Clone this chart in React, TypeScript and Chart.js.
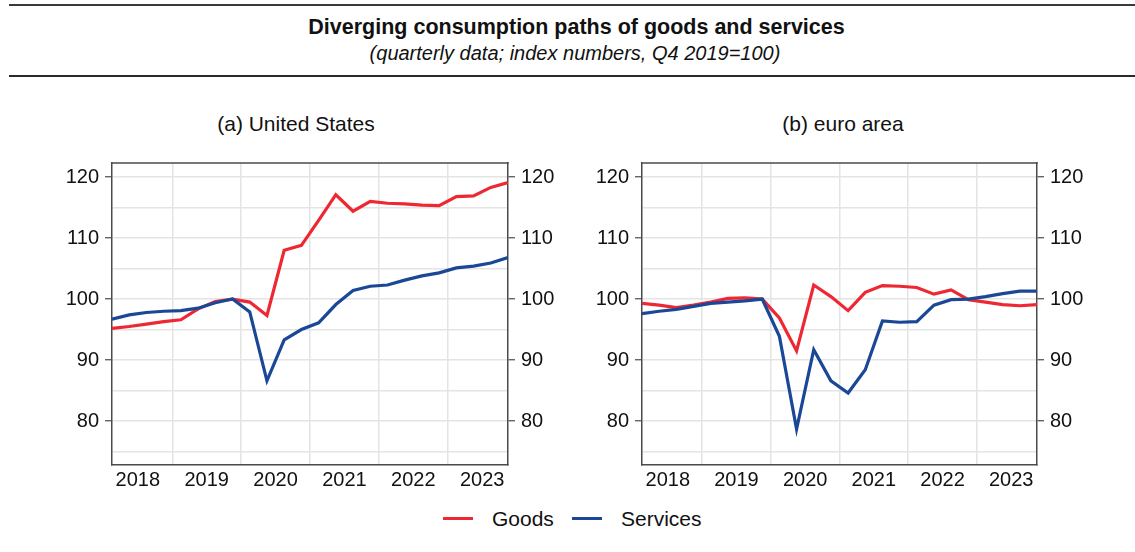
import React, { useEffect, useRef } from 'react';
import { Chart, registerables } from 'chart.js';

Chart.register(...registerables);

const FONT = "'Liberation Sans', Arial, Helvetica, sans-serif";

// ---- data ----
const quarters = [
  '2018Q1', '2018Q2', '2018Q3', '2018Q4',
  '2019Q1', '2019Q2', '2019Q3', '2019Q4',
  '2020Q1', '2020Q2', '2020Q3', '2020Q4',
  '2021Q1', '2021Q2', '2021Q3', '2021Q4',
  '2022Q1', '2022Q2', '2022Q3', '2022Q4',
  '2023Q1', '2023Q2', '2023Q3', '2023Q4',
];
const yearLabels = ['2018', '2019', '2020', '2021', '2022', '2023'];

const usGoods = [
  95.2, 95.5, 95.9, 96.3, 96.6, 98.4, 99.6, 100.0,
  99.5, 97.3, 108.0, 108.8, 112.9, 117.1, 114.4, 116.0,
  115.7, 115.6, 115.4, 115.3, 116.8, 116.9, 118.3, 119.1,
];
const usServices = [
  96.7, 97.4, 97.8, 98.0, 98.1, 98.5, 99.4, 100.0,
  97.9, 86.6, 93.3, 95.0, 96.1, 99.1, 101.4, 102.1,
  102.3, 103.1, 103.8, 104.3, 105.1, 105.4, 105.9, 106.8,
];
const eaGoods = [
  99.3, 99.0, 98.6, 99.0, 99.5, 100.1, 100.2, 100.0,
  96.9, 91.5, 102.3, 100.4, 98.1, 101.1, 102.2, 102.1,
  101.9, 100.8, 101.5, 99.9, 99.5, 99.1, 98.9, 99.1,
];
const eaServices = [
  97.6, 98.0, 98.3, 98.8, 99.3, 99.5, 99.7, 100.0,
  93.9, 78.7, 91.7, 86.6, 84.6, 88.4, 96.4, 96.2,
  96.3, 99.0, 99.9, 100.0, 100.4, 100.9, 101.3, 101.3,
];

const yLabelledTicks = [80, 90, 100, 110, 120];
const yMinorGrid = [75, 85, 95, 105, 115];
const yRange = [72.8, 122.3];

const seriesNames = ['Goods', 'Services'];
const seriesColors = ['#ee2833', '#1b4797'];

// ---- helpers built from the data ----
const yearStartIdx = yearLabels.map((y) => quarters.indexOf(y + 'Q1'));
const xBoundaries = yearStartIdx.filter((i) => i > 0).map((i) => i - 0.5);
const xMidpoints = yearStartIdx.map((i) => i + 1.5);
const xTickValues = [...xMidpoints, ...xBoundaries].sort((a, b) => a - b);
const yTickValues = [...yLabelledTicks, ...yMinorGrid].sort((a, b) => a - b);

const GRID = '#e4e4e4';
const AXIS = '#4a4a4a';
const TEXT = '#111111';

function yScale(position: 'left' | 'right', onChart: boolean) {
  return {
    type: 'linear',
    position,
    min: yRange[0],
    max: yRange[1],
    afterBuildTicks: (s: any) => {
      s.ticks = yTickValues.map((v) => ({ value: v }));
    },
    afterFit: (s: any) => {
      s.width = 52;
      s.paddingTop = 0;
      s.paddingBottom = 0;
    },
    ticks: {
      autoSkip: false,
      padding: 6,
      color: TEXT,
      font: { family: FONT, size: 20 },
      callback: (v: any) => (yLabelledTicks.includes(v) ? String(v) : ''),
    },
    grid: {
      drawOnChartArea: onChart,
      color: GRID,
      lineWidth: 1.5,
      tickLength: 7,
      tickWidth: 1.2,
      tickColor: (ctx: any) =>
        ctx.tick && yLabelledTicks.includes(ctx.tick.value) ? AXIS : 'rgba(0,0,0,0)',
    },
    border: { color: AXIS, width: 1.5 },
  };
}

const framePlugin = {
  id: 'frameTop',
  afterDraw(chart: any) {
    const { ctx, chartArea: a } = chart;
    ctx.save();
    ctx.strokeStyle = AXIS;
    ctx.lineWidth = 1.5;
    ctx.beginPath();
    ctx.moveTo(a.left - 0.75, a.top);
    ctx.lineTo(a.right + 0.75, a.top);
    ctx.stroke();
    ctx.restore();
  },
};

function Panel(props: {
  goods: number[];
  services: number[];
  left: number;
  width: number;
}) {
  const ref = useRef<HTMLCanvasElement | null>(null);
  useEffect(() => {
    if (!ref.current) return;
    const series = [props.goods, props.services];
    const chart = new Chart(ref.current, {
      type: 'line',
      data: {
        datasets: series.map((vals, k) => ({
          label: seriesNames[k],
          data: vals.map((v, i) => ({ x: i, y: v })),
          borderColor: seriesColors[k],
          backgroundColor: seriesColors[k],
          borderWidth: 3.2,
          pointRadius: 0,
          tension: 0,
          borderJoinStyle: 'miter',
          order: 1 - k,
        })),
      },
      options: {
        animation: false,
        responsive: true,
        maintainAspectRatio: false,
        layout: { padding: { top: 8, left: 0, right: 0, bottom: 0 } },
        plugins: { legend: { display: false }, tooltip: { enabled: false } },
        scales: {
          x: {
            type: 'linear',
            min: 0,
            max: quarters.length - 1,
            afterBuildTicks: (s: any) => {
              s.ticks = xTickValues.map((v) => ({ value: v }));
            },
            afterFit: (s: any) => {
              s.height = 35;
              s.paddingLeft = 0;
              s.paddingRight = 0;
            },
            ticks: {
              autoSkip: false,
              maxRotation: 0,
              padding: 3,
              color: TEXT,
              font: { family: FONT, size: 20 },
              callback: (v: any) => {
                const k = xMidpoints.indexOf(v);
                return k >= 0 ? yearLabels[k] : '';
              },
            },
            grid: {
              drawTicks: false,
              lineWidth: 1.5,
              color: (ctx: any) =>
                ctx.tick && xBoundaries.includes(ctx.tick.value) ? GRID : 'rgba(0,0,0,0)',
            },
            border: { color: AXIS, width: 1.5 },
          },
          y: yScale('left', true),
          y2: yScale('right', false),
        } as any,
      },
      plugins: [framePlugin],
    } as any);
    return () => chart.destroy();
  }, []);
  return (
    <div
      style={{
        position: 'absolute',
        left: props.left,
        top: 155,
        width: props.width,
        height: 345,
      }}
    >
      <canvas ref={ref} />
    </div>
  );
}

export default function App() {
  const textBase: React.CSSProperties = {
    position: 'absolute',
    fontFamily: FONT,
    color: TEXT,
    whiteSpace: 'nowrap',
    lineHeight: 1,
  };
  const legendLeft = [443, 572];
  const legendTextLeft = [492, 621];
  return (
    <div
      style={{
        position: 'absolute',
        left: 0,
        top: 0,
        width: 1135,
        height: 552,
        background: '#fff',
        overflow: 'hidden',
      }}
    >
      <div style={{ position: 'absolute', left: 9, right: 0, top: 4, height: 2, background: '#3a3a3a' }} />
      <div
        style={{
          ...textBase,
          left: 0,
          width: 1153,
          top: 17,
          textAlign: 'center',
          fontWeight: 'bold',
          fontSize: 21.5,
        }}
      >
        Diverging consumption paths of goods and services
      </div>
      <div
        style={{
          ...textBase,
          left: 0,
          width: 1150,
          top: 43,
          textAlign: 'center',
          fontStyle: 'italic',
          fontSize: 20,
        }}
      >
        (quarterly data; index numbers, Q4 2019=100)
      </div>
      <div style={{ position: 'absolute', left: 9, right: 0, top: 75, height: 2, background: '#2a2a2a' }} />

      <div style={{ ...textBase, left: 146, width: 300, top: 113, textAlign: 'center', fontSize: 21 }}>
        (a) United States
      </div>
      <div style={{ ...textBase, left: 693, width: 300, top: 113, textAlign: 'center', fontSize: 21 }}>
        (b) euro area
      </div>

      <Panel goods={usGoods} services={usServices} left={60} width={500} />
      <Panel goods={eaGoods} services={eaServices} left={590} width={499} />

      {seriesNames.map((n, k) => (
        <React.Fragment key={n}>
          <div
            style={{
              position: 'absolute',
              left: legendLeft[k],
              top: 517,
              width: 30,
              height: 3,
              background: seriesColors[k],
            }}
          />
          <div style={{ ...textBase, left: legendTextLeft[k], top: 508, fontSize: 21 }}>{n}</div>
        </React.Fragment>
      ))}
    </div>
  );
}
